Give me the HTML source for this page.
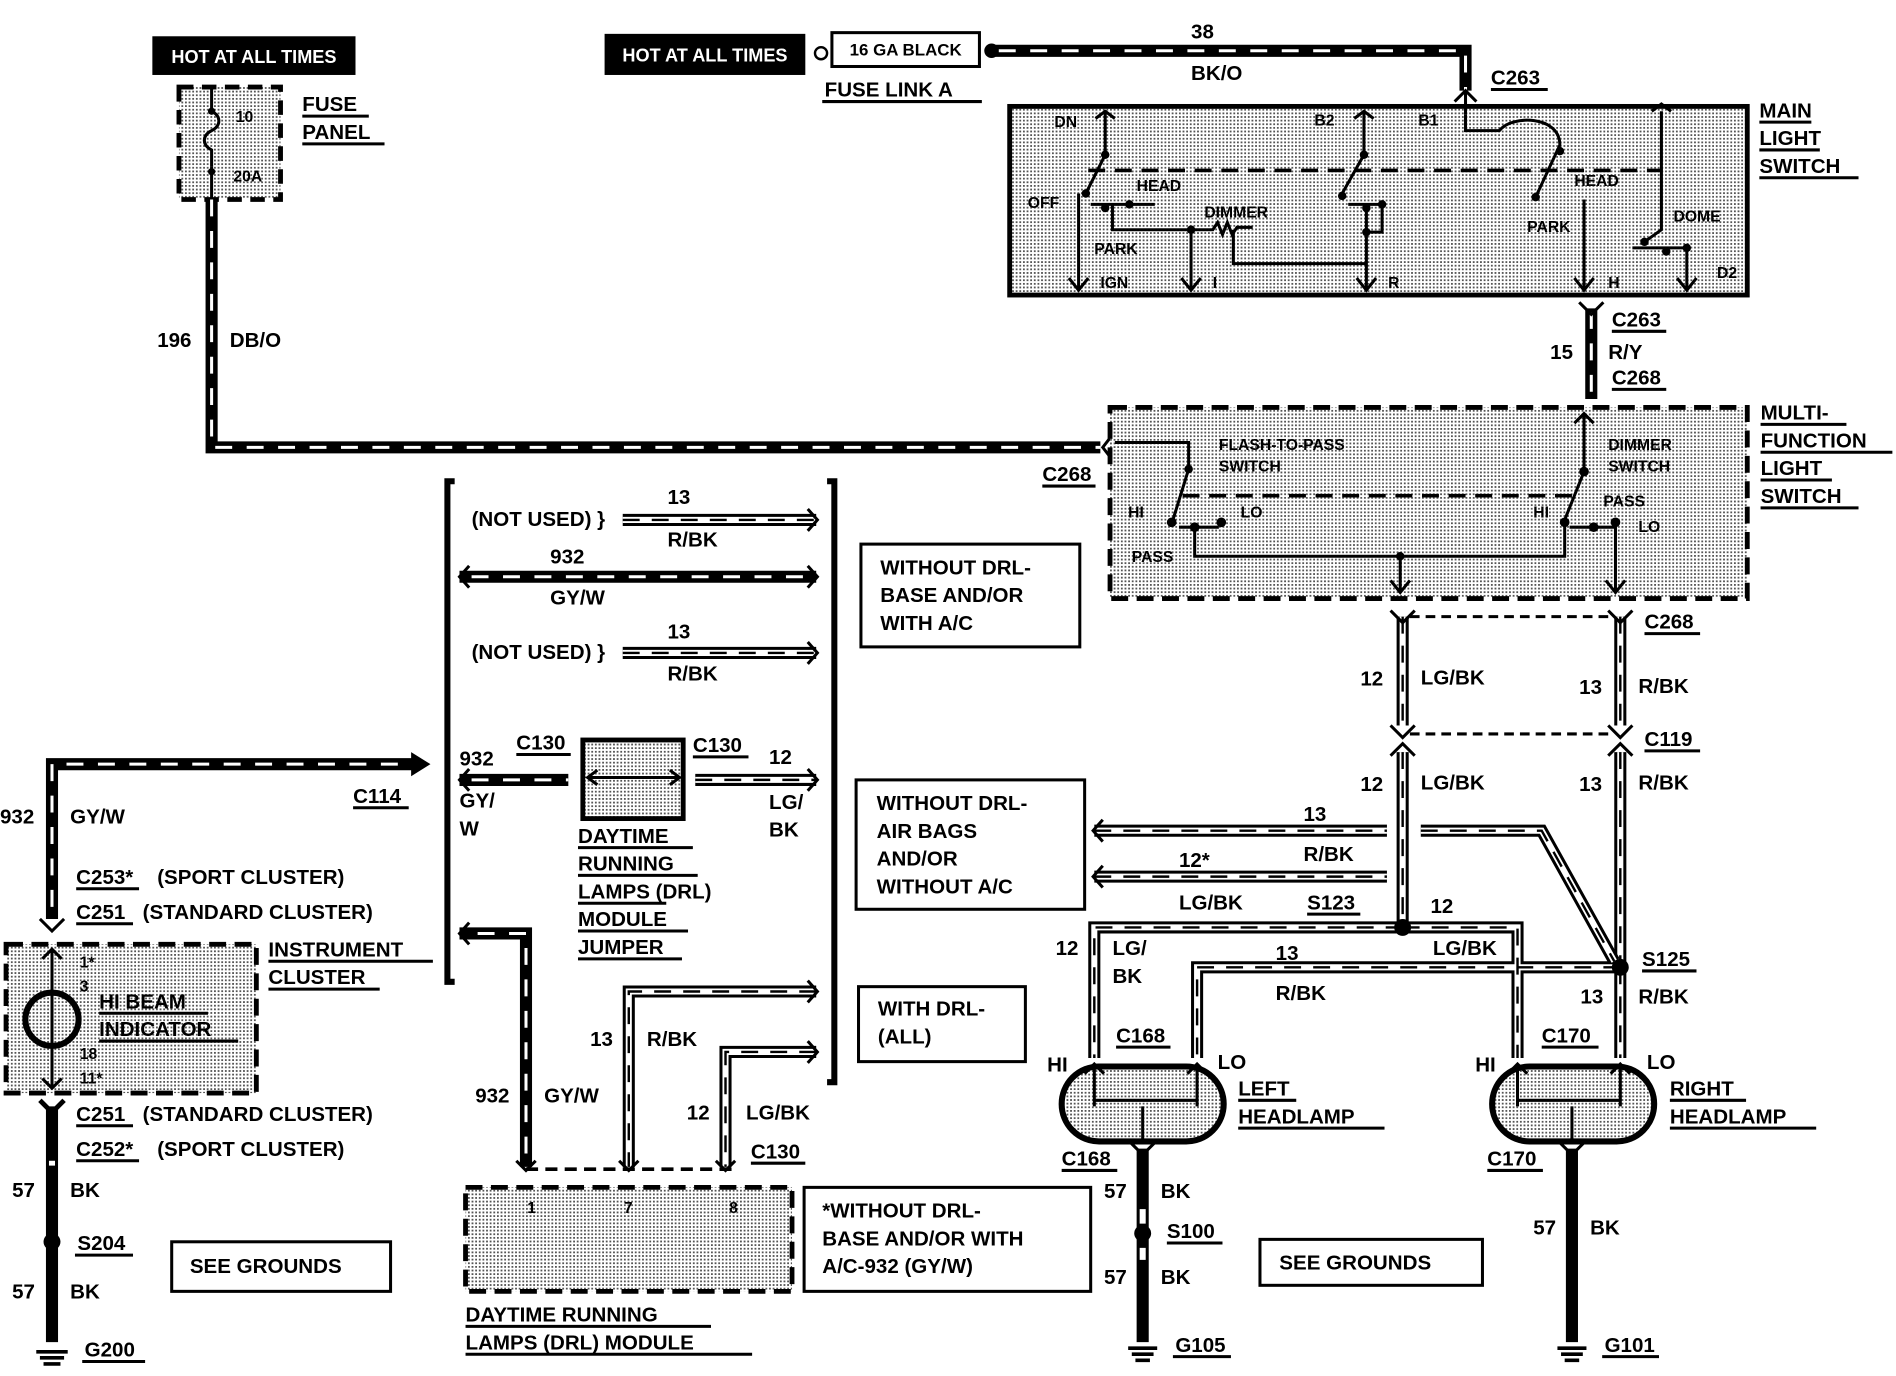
<!DOCTYPE html>
<html><head><meta charset="utf-8"><style>
html,body{margin:0;padding:0;background:#fff}
svg{display:block}
text{font-family:"Liberation Sans",sans-serif;font-weight:bold;fill:#000}
.t{font-size:17px}
.s{font-size:13px}
.k{fill:none;stroke:#000;stroke-width:10}
.wd{fill:none;stroke:#fff;stroke-width:2.5;stroke-dasharray:14 12}
.wo{fill:none;stroke:#fff;stroke-width:5}
.bd{fill:none;stroke:#000;stroke-width:2;stroke-dasharray:14 10}
.ln{fill:none;stroke:#000;stroke-width:2.5}
.dash{fill:none;stroke:#000;stroke-width:4;stroke-dasharray:14 8}
.sh{fill:#c9c9c9}
</style></head><body>
<svg width="1896" height="1376" viewBox="0 0 1568 1138" preserveAspectRatio="none" xmlns="http://www.w3.org/2000/svg">
<defs>
<pattern id="dots" width="3" height="3" patternUnits="userSpaceOnUse"><rect width="3" height="3" fill="#fff"/><rect width="1.5" height="1.5" fill="#555"/></pattern>
</defs>
<!-- HOT AT ALL TIMES 1 -->
<rect x="126" y="30" width="168" height="32" fill="#000"/>
<text x="210" y="52" text-anchor="middle" font-size="15" style="fill:#fff">HOT AT ALL TIMES</text>
<rect x="148" y="72" width="84" height="93" fill="url(#dots)" stroke="#000" stroke-width="4" stroke-dasharray="12 7"/>
<path class="ln" d="M175 72 V92 M175 138 V165"/>
<path class="ln" d="M175 92 c8 4 8 12 0 16 c-8 4 -8 12 0 16 V138"/>
<circle cx="175" cy="92" r="3"/><circle cx="175" cy="142" r="3"/>
<text x="195" y="101" class="s">10</text><text x="193" y="150" class="s">20A</text>
<text x="250" y="92" class="t">FUSE</text><text x="250" y="115" class="t">PANEL</text>
<path class="ln" d="M250 96 H305 M250 119 H318"/>
<!-- 196 wire -->
<path class="k" d="M175 165 V370 H910"/><path class="wd" d="M175 165 V370 H910"/>
<text x="130" y="287" class="t">196</text><text x="190" y="287" class="t">DB/O</text>
<path class="ln" d="M922 357 L912 370 L922 383"/>
<text x="862" y="398" class="t">C268</text><path class="ln" d="M862 402 H906"/>
<!-- HOT 2 -->
<rect x="500" y="28" width="166" height="34" fill="#000"/>
<text x="583" y="51" text-anchor="middle" font-size="15" style="fill:#fff">HOT AT ALL TIMES</text>
<circle cx="679" cy="44" r="5" fill="#fff" stroke="#000" stroke-width="2"/>
<rect x="688" y="27" width="122" height="28" fill="#fff" stroke="#000" stroke-width="2.5"/>
<text x="749" y="46" text-anchor="middle" font-size="14">16 GA BLACK</text>
<circle cx="820" cy="42" r="6"/>
<path class="k" d="M820 42 H1212 V75"/><path class="wd" d="M826 42 H1212 V75"/>
<text x="985" y="32" class="t">38</text><text x="985" y="66" class="t">BK/O</text>
<text x="682" y="80" class="t">FUSE LINK A</text><path class="ln" d="M680 84 H812"/>
<text x="1233" y="70" class="t">C263</text><path class="ln" d="M1233 74 H1280"/>
<!-- Main light switch -->
<rect x="835" y="88" width="610" height="156" fill="url(#dots)" stroke="#000" stroke-width="4"/>
<path class="ln" d="M1212 75 V95 M1203 84 L1212 75 L1221 84"/>
<text x="1455" y="97" class="t">MAIN</text><text x="1455" y="120" class="t">LIGHT</text><text x="1455" y="143" class="t">SWITCH</text>
<path class="ln" d="M1455 101 H1498 M1455 124 H1505 M1455 147 H1537"/>
<g class="s"><text x="872" y="105" font-size="13">DN</text><text x="1087" y="104" font-size="13">B2</text><text x="1173" y="104" font-size="13">B1</text>
<text x="850" y="172" font-size="13">OFF</text><text x="940" y="158" font-size="13">HEAD</text><text x="996" y="180" font-size="13">DIMMER</text>
<text x="905" y="210" font-size="13">PARK</text><text x="910" y="238" font-size="13">IGN</text><text x="1003" y="238" font-size="13">I</text><text x="1148" y="238" font-size="13">R</text>
<text x="1302" y="154" font-size="13">HEAD</text><text x="1263" y="192" font-size="13">PARK</text><text x="1384" y="183" font-size="13">DOME</text>
<text x="1330" y="238" font-size="13">H</text><text x="1420" y="230" font-size="13">D2</text></g>
<path class="ln" d="M914 92 V128 L898 160 M892 160 V240 M884 230 L892 240 L900 230 M898 160 M902 169 H955 M920 169 V190 H985 V240 M977 230 L985 240 L993 230 M985 190 H1003 l4 -6 4 10 4 -10 4 10 4 -6 H1036 M1020 190 V218 H1130 M1128 92 V128 L1110 160 M1115 169 H1143 V192 H1130 M1130 169 V240 M1122 230 L1130 240 L1138 230 M1212 95 V108 H1240 C1250 95 1290 95 1290 120 L1270 163 M1310 165 V240 M1302 230 L1310 240 L1318 230 M1374 92 V190 L1360 200 M1350 205 H1395 M1395 205 V240 M1387 230 L1395 240 L1403 230 M1366 92 L1374 86 L1382 92 M906 98 L914 92 L922 98 M1120 98 L1128 92 L1136 98"/>
<path class="dash" d="M900 141 H1375" style="stroke-width:3"/>
<circle cx="914" cy="128" r="3.5"/><circle cx="898" cy="160" r="3.5"/><circle cx="914" cy="172" r="3.5"/><circle cx="934" cy="169" r="3.5"/><circle cx="985" cy="190" r="3.5"/><circle cx="1128" cy="128" r="3.5"/><circle cx="1110" cy="162" r="3.5"/><circle cx="1130" cy="172" r="3.5"/><circle cx="1143" cy="169" r="3.5"/><circle cx="1130" cy="192" r="3.5"/><circle cx="1290" cy="125" r="3.5"/><circle cx="1270" cy="163" r="3.5"/><circle cx="1360" cy="200" r="3.5"/><circle cx="1378" cy="208" r="3.5"/><circle cx="1395" cy="205" r="3.5"/>
<!-- 15 R/Y -->
<path class="k" d="M1316 255 V330"/><path class="wd" d="M1316 258 V330"/>
<path class="ln" d="M1306 250 L1316 260 L1326 250"/>
<text x="1333" y="270" class="t">C263</text><path class="ln" d="M1333 274 H1378"/>
<text x="1282" y="297" class="t">15</text><text x="1330" y="297" class="t">R/Y</text>
<text x="1333" y="318" class="t">C268</text><path class="ln" d="M1333 322 H1378"/>
<!-- MF switch -->
<rect x="918" y="337" width="527" height="158" fill="url(#dots)" stroke="#000" stroke-width="4" stroke-dasharray="14 7"/>
<text x="1456" y="347" class="t">MULTI-</text><text x="1456" y="370" class="t">FUNCTION</text><text x="1456" y="393" class="t">LIGHT</text><text x="1456" y="416" class="t">SWITCH</text>
<path class="ln" d="M1456 351 H1527 M1456 374 H1565 M1456 397 H1515 M1456 420 H1537"/>
<g font-size="13"><text x="1008" y="372" font-size="13">FLASH-TO-PASS</text><text x="1008" y="390" font-size="13">SWITCH</text><text x="1330" y="372" font-size="13">DIMMER</text><text x="1330" y="390" font-size="13">SWITCH</text>
<text x="933" y="428" font-size="13">HI</text><text x="1026" y="428" font-size="13">LO</text><text x="936" y="465" font-size="13">PASS</text><text x="1268" y="428" font-size="13">HI</text><text x="1326" y="419" font-size="13">PASS</text><text x="1355" y="440" font-size="13">LO</text></g>
<path class="ln" d="M922 366 H983 V388 L970 430 M975 436 H1008 M988 436 V460 H1294 V430 L1310 390 V342 M1302 350 L1310 342 L1318 350 M1298 436 H1336 V490 M1328 480 L1336 490 L1344 480 M1158 460 V490 M1150 480 L1158 490 L1166 480"/>
<path class="dash" d="M978 410 H1306" style="stroke-width:3"/>
<circle cx="983" cy="388" r="3.5"/><circle cx="969" cy="432" r="4"/><circle cx="988" cy="436" r="4"/><circle cx="1010" cy="432" r="4"/><circle cx="1158" cy="460" r="3.5"/><circle cx="1310" cy="390" r="4"/><circle cx="1294" cy="432" r="4"/><circle cx="1318" cy="436" r="4"/><circle cx="1336" cy="432" r="4"/>
<!-- 12 / 13 drop wires -->
<g>
<path class="k" d="M1160 510 V600 M1340 510 V600 M1160 622 V767 M1340 622 V800"/>
<path class="wo" d="M1160 510 V600 M1340 510 V600 M1160 622 V767 M1340 622 V800"/>
<path class="bd" d="M1160 510 V600 M1340 510 V600 M1160 622 V767 M1340 622 V800"/>
</g>
<path class="ln" d="M1150 505 L1160 515 L1170 505 M1330 505 L1340 515 L1350 505 M1150 600 L1160 610 L1170 600 M1330 600 L1340 610 L1350 600 M1150 625 L1160 615 L1170 625 M1330 625 L1340 615 L1350 625"/>
<path class="ln" d="M1166 510 H1334 M1166 607 H1334" style="stroke-dasharray:8 5"/>
<text x="1360" y="520" class="t">C268</text><path class="ln" d="M1360 524 H1406"/>
<text x="1125" y="567" class="t">12</text><text x="1175" y="566" class="t">LG/BK</text><text x="1306" y="574" class="t">13</text><text x="1355" y="573" class="t">R/BK</text>
<text x="1360" y="617" class="t">C119</text><path class="ln" d="M1360 621 H1406"/>
<text x="1125" y="654" class="t">12</text><text x="1175" y="653" class="t">LG/BK</text><text x="1306" y="654" class="t">13</text><text x="1355" y="653" class="t">R/BK</text>
<!-- horizontal striped wires near drl note -->
<g>
<path class="k" d="M905 687 H1147 M905 725 H1147 M1175 687 H1275 L1335 795 M1160 767 H905 V875 M1160 767 H1255 V875 M1340 800 H990 V875 M1340 800 V875"/>
<path class="wo" d="M905 687 H1147 M905 725 H1147 M1175 687 H1275 L1335 795 M1160 767 H905 V875 M1160 767 H1255 V875 M1340 800 H990 V875 M1340 800 V875"/>
<path class="bd" d="M905 687 H1147 M905 725 H1147 M1175 687 H1275 L1335 795 M1160 767 H905 V875 M1160 767 H1255 V875 M1340 800 H990 V875 M1340 800 V875"/>
</g>
<path class="ln" d="M912 678 L904 687 L912 696 M912 716 L904 725 L912 734"/>
<circle cx="1160" cy="767" r="7"/><circle cx="1340" cy="800" r="7"/>
<text x="1078" y="679" class="t">13</text><text x="1078" y="712" class="t">R/BK</text><text x="975" y="717" class="t">12*</text><text x="975" y="752" class="t">LG/BK</text>
<text x="1081" y="752" class="t">S123</text><path class="ln" d="M1081 756 H1125"/>
<text x="1183" y="755" class="t">12</text><text x="1185" y="790" class="t">LG/BK</text><text x="1055" y="794" class="t">13</text><text x="1055" y="827" class="t">R/BK</text>
<text x="873" y="790" class="t">12</text><text x="920" y="790" class="t">LG/</text><text x="920" y="813" class="t">BK</text>
<text x="1358" y="799" class="t">S125</text><path class="ln" d="M1358 803 H1403"/>
<text x="1307" y="830" class="t">13</text><text x="1355" y="830" class="t">R/BK</text>
<text x="923" y="862" class="t">C168</text><path class="ln" d="M923 866 H968"/>
<text x="1275" y="862" class="t">C170</text><path class="ln" d="M1275 866 H1322"/>
<text x="866" y="886" class="t">HI</text><text x="1007" y="884" class="t">LO</text><text x="1220" y="886" class="t">HI</text><text x="1362" y="884" class="t">LO</text>
<!-- headlamps -->
<g>
<rect x="878" y="882" width="134" height="62" rx="31" fill="url(#dots)" stroke="#000" stroke-width="5"/>
<rect x="1234" y="882" width="134" height="62" rx="31" fill="url(#dots)" stroke="#000" stroke-width="5"/>
<path class="ln" d="M905 880 V915 M990 880 V915 M905 910 H990 M1255 880 V915 M1340 880 V915 M1255 910 H1340 M945 915 V945 M1300 915 V945 M897 888 L905 880 L913 888 M982 888 L990 880 L998 888 M1247 888 L1255 880 L1263 888 M1332 888 L1340 880 L1348 888"/>
</g>
<text x="1024" y="906" class="t">LEFT</text><text x="1024" y="929" class="t">HEADLAMP</text><path class="ln" d="M1024 910 H1072 M1024 933 H1145"/>
<text x="1381" y="906" class="t">RIGHT</text><text x="1381" y="929" class="t">HEADLAMP</text><path class="ln" d="M1381 910 H1444 M1381 933 H1502"/>
<path class="k" d="M945 950 V1110 M1300 950 V1110"/>
<path class="wo" d="M945 1000 V1012 M945 1032 V1042 M1300 1000 V1000"/>
<circle cx="945" cy="1020" r="7"/>
<path class="ln" d="M935 945 L945 955 L955 945 M1290 945 L1300 955 L1310 945"/>
<text x="878" y="964" class="t">C168</text><path class="ln" d="M878 968 H924"/>
<text x="1230" y="964" class="t">C170</text><path class="ln" d="M1230 968 H1276"/>
<text x="913" y="991" class="t">57</text><text x="960" y="991" class="t">BK</text>
<text x="965" y="1024" class="t">S100</text><path class="ln" d="M965 1028 H1011"/>
<text x="913" y="1062" class="t">57</text><text x="960" y="1062" class="t">BK</text>
<text x="1268" y="1021" class="t">57</text><text x="1315" y="1021" class="t">BK</text>
<path class="ln" d="M933 1115 H957 M936 1120 H954 M939 1125 H951 M1288 1115 H1312 M1291 1120 H1309 M1294 1125 H1306 M30 1118 H56 M33 1123 H53 M36 1128 H50" style="stroke-width:3"/>
<text x="972" y="1118" class="t">G105</text><path class="ln" d="M970 1122 H1018"/>
<text x="1327" y="1118" class="t">G101</text><path class="ln" d="M1325 1122 H1372"/>
<!-- text boxes -->
<g fill="none" stroke="#000" stroke-width="2.5">
<rect x="712" y="450" width="181" height="85"/><rect x="708" y="645" width="189" height="107"/><rect x="710" y="816" width="138" height="62"/><rect x="665" y="982" width="237" height="86"/><rect x="142" y="1027" width="181" height="41"/><rect x="1042" y="1025" width="184" height="38"/>
</g>
<text x="728" y="475" class="t">WITHOUT DRL-</text><text x="728" y="498" class="t">BASE AND/OR</text><text x="728" y="521" class="t">WITH A/C</text>
<text x="725" y="670" class="t">WITHOUT DRL-</text><text x="725" y="693" class="t">AIR BAGS</text><text x="725" y="716" class="t">AND/OR</text><text x="725" y="739" class="t">WITHOUT A/C</text>
<text x="726" y="840" class="t">WITH DRL-</text><text x="726" y="863" class="t">(ALL)</text>
<text x="680" y="1007" class="t">*WITHOUT DRL-</text><text x="680" y="1030" class="t">BASE AND/OR WITH</text><text x="680" y="1053" class="t">A/C-932 (GY/W)</text>
<text x="157" y="1053" class="t">SEE GROUNDS</text><text x="1058" y="1050" class="t">SEE GROUNDS</text>
<!-- brackets -->
<path fill="none" stroke="#000" stroke-width="5" d="M376 398 H370 V812 H376 M684 398 H690 V895 H684"/>
<!-- bracket wires -->
<g>
<path class="k" d="M515 430 H675 M515 540 H675 M575 645 H675 M675 820 H520 V965 M675 870 H600 V965"/>
<path class="wo" d="M515 430 H675 M515 540 H675 M575 645 H675 M675 820 H520 V965 M675 870 H600 V965"/>
<path class="bd" d="M515 430 H675 M515 540 H675 M575 645 H675 M675 820 H520 V965 M675 870 H600 V965"/>
</g>
<path class="k" d="M380 477 H675 M380 645 H470 M380 772 H435 V965"/>
<path class="wd" d="M390 477 H675 M390 645 H470 M395 772 H435 V965"/>
<path class="ln" d="M668 421 L676 430 L668 439 M668 531 L676 540 L668 549 M668 468 L676 477 L668 486 M668 636 L676 645 L668 654 M668 811 L676 820 L668 829 M668 861 L676 870 L668 879 M388 468 L380 477 L388 486 M388 636 L380 645 L388 654 M388 763 L380 772 L388 781"/>
<text x="390" y="435" class="t">(NOT USED) }</text><text x="552" y="417" class="t">13</text><text x="552" y="452" class="t">R/BK</text>
<text x="455" y="466" class="t">932</text><text x="455" y="500" class="t">GY/W</text>
<text x="390" y="545" class="t">(NOT USED) }</text><text x="552" y="528" class="t">13</text><text x="552" y="563" class="t">R/BK</text>
<text x="380" y="633" class="t">932</text><text x="380" y="668" class="t">GY/</text><text x="380" y="691" class="t">W</text>
<text x="427" y="620" class="t">C130</text><path class="ln" d="M427 624 H472"/>
<text x="573" y="622" class="t">C130</text><path class="ln" d="M573 626 H619"/>
<text x="636" y="632" class="t">12</text><text x="636" y="669" class="t">LG/</text><text x="636" y="692" class="t">BK</text>
<rect x="482" y="612" width="83" height="65" fill="url(#dots)" stroke="#000" stroke-width="4"/>
<path class="ln" d="M486 643 H562 M494 637 L486 643 L494 649 M554 637 L562 643 L554 649"/>
<text x="478" y="697" class="t">DAYTIME</text><text x="478" y="720" class="t">RUNNING</text><text x="478" y="743" class="t">LAMPS (DRL)</text><text x="478" y="766" class="t">MODULE</text><text x="478" y="789" class="t">JUMPER</text>
<path class="ln" d="M478 701 H573 M478 724 H577 M478 747 H551 M478 770 H569 M478 793 H564"/>
<text x="488" y="865" class="t">13</text><text x="535" y="865" class="t">R/BK</text>
<text x="393" y="912" class="t">932</text><text x="450" y="912" class="t">GY/W</text>
<text x="568" y="926" class="t">12</text><text x="617" y="926" class="t">LG/BK</text>
<text x="621" y="958" class="t">C130</text><path class="ln" d="M621 962 H666"/>
<path class="ln" d="M435 967 H610" style="stroke-dasharray:10 6;stroke-width:3"/>
<path class="ln" d="M427 960 L435 968 L443 960 M512 960 L520 968 L528 960 M592 960 L600 968 L608 960"/>
<!-- DRL module -->
<rect x="385" y="982" width="270" height="86" fill="url(#dots)" stroke="#000" stroke-width="4" stroke-dasharray="14 7"/>
<text x="436" y="1003" font-size="13">1</text><text x="516" y="1003" font-size="13">7</text><text x="603" y="1003" font-size="13">8</text>
<text x="385" y="1093" class="t">DAYTIME RUNNING</text><text x="385" y="1116" class="t">LAMPS (DRL) MODULE</text>
<path class="ln" d="M385 1097 H588 M385 1120 H622"/>
<!-- left 932 -->
<path class="k" d="M43 760 V632 H345"/><path class="wd" d="M43 750 V632 H345"/>
<path d="M340 622 L356 632 L340 642 Z"/>
<text x="0" y="681" class="t">932</text><text x="58" y="681" class="t">GY/W</text>
<text x="292" y="664" class="t">C114</text><path class="ln" d="M292 668 H338"/>
<text x="63" y="731" class="t">C253*</text><text x="130" y="731" class="t">(SPORT CLUSTER)</text><path class="ln" d="M63 735 H115"/>
<text x="63" y="760" class="t">C251</text><text x="118" y="760" class="t">(STANDARD CLUSTER)</text><path class="ln" d="M63 764 H110"/>
<path class="ln" d="M33 760 L43 770 L53 760"/>
<!-- instrument cluster -->
<rect x="5" y="781" width="207" height="123" fill="url(#dots)" stroke="#000" stroke-width="4" stroke-dasharray="14 7"/>
<path class="ln" d="M43 785 V900 M35 793 L43 785 L51 793 M35 892 L43 900 L51 892"/>
<circle cx="43" cy="843" r="22" fill="none" stroke="#000" stroke-width="5"/>
<text x="66" y="800" font-size="13">1*</text><text x="66" y="820" font-size="13">3</text><text x="66" y="876" font-size="13">18</text><text x="66" y="896" font-size="13">11*</text>
<text x="82" y="834" class="t">HI BEAM</text><text x="82" y="857" class="t">INDICATOR</text><path class="ln" d="M82 838 H172 M82 861 H197"/>
<text x="222" y="791" class="t">INSTRUMENT</text><text x="222" y="814" class="t">CLUSTER</text><path class="ln" d="M222 795 H358 M222 818 H314"/>
<path class="k" d="M43 915 V1110"/><path class="wo" d="M43 960 V964"/>
<path class="ln" d="M33 910 L43 920 L53 910" style="stroke-width:4"/>
<circle cx="43" cy="1027" r="7"/>
<text x="63" y="927" class="t">C251</text><text x="118" y="927" class="t">(STANDARD  CLUSTER)</text><path class="ln" d="M63 931 H110"/>
<text x="63" y="956" class="t">C252*</text><text x="130" y="956" class="t">(SPORT CLUSTER)</text><path class="ln" d="M63 960 H115"/>
<text x="10" y="990" class="t">57</text><text x="58" y="990" class="t">BK</text>
<text x="64" y="1034" class="t">S204</text><path class="ln" d="M62 1038 H110"/>
<text x="10" y="1074" class="t">57</text><text x="58" y="1074" class="t">BK</text>
<text x="70" y="1122" class="t">G200</text><path class="ln" d="M68 1126 H120"/>
</svg>
</body></html>
